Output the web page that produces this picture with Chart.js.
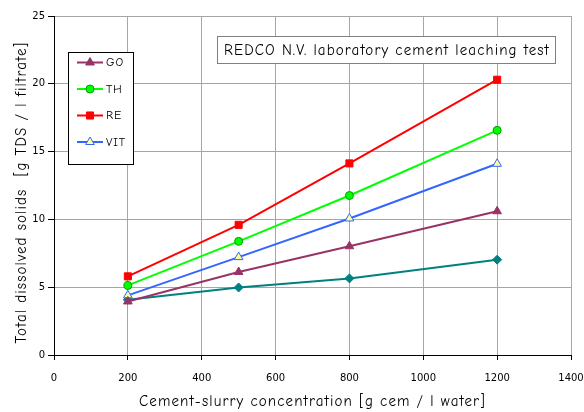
<!DOCTYPE html>
<html>
<head>
<meta charset="utf-8">
<script src="https://cdn.jsdelivr.net/npm/chart.js@4/dist/chart.umd.min.js"></script>
<style>
    html, body { margin: 0; padding: 0; background: #fff; }
    #wrap { position: relative; width: 584px; height: 412px; }
</style>
</head>
<body>
<div id="wrap"><canvas id="grafico" width="584" height="412"></canvas></div>
<script>
// Concentraciones de la lechada (g cem / l agua) y TDS medidos (g / l filtrado)
const concentraciones = [200, 500, 800, 1200];
const serieGO = [3.95, 6.12, 8.02, 10.6];
const serieTH = [5.13, 8.38, 11.76, 16.57];
const serieRE = [5.8, 9.6, 14.13, 20.3];
const serieVIT = [4.4, 7.22, 10.07, 14.1];
const serieBase = [4.07, 4.98, 5.65, 7.03];

const ticksX = [0, 200, 400, 600, 800, 1000, 1200, 1400];
const ticksY = [0, 5, 10, 15, 20, 25];

const tituloCaja = 'REDCO N.V. laboratory cement leaching test';
const tituloX = 'Cement-slurry concentration [g cem / l water]';
const tituloY = 'Total dissolved solids  [g TDS / l filtrate]';

const fuenteManual = '"Comic Sans MS", "Comic Neue", "DejaVu Sans", sans-serif';
const fuenteTicks = '"DejaVu Sans", Verdana, sans-serif';

const puntos = (valores) => concentraciones.map((x, i) => ({ x, y: valores[i] }));

const serie = (label, datos, linea, estilo, relleno, borde, radio, enLeyenda = true) => ({
    label,
    data: puntos(datos),
    borderColor: linea,
    borderWidth: 2,
    pointStyle: estilo,
    pointRadius: radio,
    pointHoverRadius: radio,
    pointBackgroundColor: relleno,
    pointBorderColor: borde,
    pointBorderWidth: 1,
    tension: 0,
    enLeyenda
});

const datasets = [
    serie('GO', serieGO, '#993366', 'triangle', '#993366', '#993366', 5),
    serie('TH', serieTH, '#00FF00', 'circle', '#00FF00', '#00A000', 4),
    serie('RE', serieRE, '#FF0000', 'rect', '#FF0000', '#FF0000', 5),
    serie('VIT', serieVIT, '#3366FF', 'triangle', '#FFFF99', '#3366FF', 5),
    serie('', serieBase, '#008080', 'rectRot', '#008080', '#008080', 4.5, false)
];

function textoEspaciado(ctx, texto, x, y, tam, espacio) {
    ctx.font = tam + 'px ' + fuenteManual;
    ctx.letterSpacing = espacio + 'px';
    ctx.fillText(texto, x, y);
    ctx.letterSpacing = '0px';
}

// Títulos de ejes, leyenda en recuadro y caja de título
const cajasInternas = {
    id: 'cajasInternas',
    afterDraw(chart) {
        const ctx = chart.ctx;
        const area = chart.chartArea;
        ctx.save();
        ctx.textAlign = 'center';
        ctx.textBaseline = 'middle';

        // títulos de los ejes
        ctx.fillStyle = '#000';
        textoEspaciado(ctx, tituloX, (area.left + area.right) / 2, 402, 15, 1.1);
        ctx.save();
        ctx.translate(22, (area.top + area.bottom) / 2 + 7);
        ctx.rotate(-Math.PI / 2);
        textoEspaciado(ctx, tituloY, 0, 0, 15, 1.1);
        ctx.restore();

        // caja del título
        ctx.fillStyle = '#fff';
        ctx.fillRect(217.5, 36.5, 338, 27);
        ctx.strokeStyle = '#808080';
        ctx.lineWidth = 1;
        ctx.strokeRect(217.5, 36.5, 338, 27);
        ctx.fillStyle = '#000';
        textoEspaciado(ctx, tituloCaja, 387, 50.5, 15, 1.1);

        // leyenda
        ctx.fillStyle = '#fff';
        ctx.fillRect(68.5, 52.5, 65, 112);
        ctx.strokeStyle = '#000';
        ctx.strokeRect(68.5, 52.5, 65, 112);

        const visibles = chart.data.datasets.filter(d => d.enLeyenda);
        visibles.forEach((d, i) => {
            const y = 62.5 + i * 26.5;
            ctx.strokeStyle = d.borderColor;
            ctx.lineWidth = 2;
            ctx.beginPath();
            ctx.moveTo(77, y);
            ctx.lineTo(103, y);
            ctx.stroke();

            ctx.fillStyle = d.pointBackgroundColor;
            ctx.strokeStyle = d.pointBorderColor;
            ctx.lineWidth = 1;
            Chart.helpers.drawPoint(ctx, {
                pointStyle: d.pointStyle,
                radius: d.pointRadius,
                rotation: 0,
                borderWidth: 1
            }, 90, y);

            ctx.fillStyle = '#000';
            ctx.textAlign = 'left';
            textoEspaciado(ctx, d.label, 106, y + 0.5, 12, 0.8);
        });

        ctx.restore();
    }
};

new Chart(document.getElementById('grafico'), {
    type: 'line',
    data: { datasets },
    options: {
        responsive: false,
        animation: false,
        layout: { padding: { top: 16, right: 13, left: 0, bottom: 0 } },
        plugins: {
            legend: { display: false },
            tooltip: { enabled: false }
        },
        scales: {
            x: {
                type: 'linear',
                min: 0,
                max: 1400,
                afterBuildTicks: (s) => { s.ticks = ticksX.map(v => ({ value: v })); },
                afterFit: (s) => {
                    s.height = 57;
                    s.paddingLeft = 0;
                    s.paddingRight = 0;
                },
                grid: { color: '#A6A6A6', tickColor: '#000', tickLength: 5, lineWidth: 1 },
                border: { color: '#000', width: 1 },
                ticks: {
                    color: '#000',
                    font: { family: fuenteTicks, size: 10 },
                    padding: 12,
                    maxRotation: 0,
                    callback: (v) => String(v)
                }
            },
            y: {
                min: 0,
                max: 25,
                afterBuildTicks: (s) => { s.ticks = ticksY.map(v => ({ value: v })); },
                afterFit: (s) => {
                    s.width = 54;
                    s.paddingTop = 0;
                    s.paddingBottom = 0;
                },
                grid: { color: '#A6A6A6', tickColor: '#000', tickLength: 6, lineWidth: 1 },
                border: { color: '#000', width: 1 },
                ticks: {
                    color: '#000',
                    font: { family: fuenteTicks, size: 10 },
                    padding: 3,
                    callback: (v) => String(v)
                }
            }
        }
    },
    plugins: [cajasInternas]
});
</script>
</body>
</html>
